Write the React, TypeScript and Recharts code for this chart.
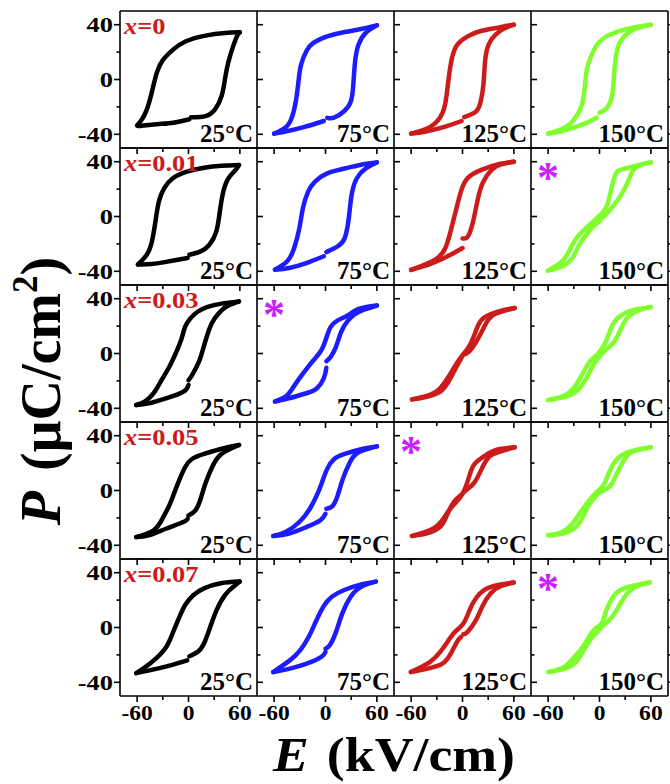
import React from 'react';
import { LineChart, Line, XAxis, YAxis } from 'recharts';

type Pt = [number, number];

// rows = composition, columns = measuring temperature
const COMPOSITIONS = ['0', '0.01', '0.03', '0.05', '0.07'];
const TEMPERATURES = ['25°C', '75°C', '125°C', '150°C'];
const LOOP_COLORS = ['#000000', '#1c1cff', '#cc1b1b', '#7fff2e'];

const E_TICKS = [-60, -30, 0, 30, 60];
const E_MAJOR = [-60, 0, 60];
const P_TICKS = [-40, -20, 0, 20, 40];
const P_MAJOR = [-40, 0, 40];

// panels marked with a star: [row, col]
const STARRED: [number, number][] = [[1, 3], [2, 1], [3, 2], [4, 3]];

// each loop: lower branch from the pause near E=0 up to +Emax,
// upper branch back down to -Emax, then lower branch up to the pause again
const x0_25C: Pt[] = [
  [3, -27.6], [20, -26.7], [31, -21.8], [38.7, -12], [42.5, 0], [46.3, 12], [52, 24], [57.7, 33], [60, 34.4],
  [42.5, 33.9], [19.7, 32], [-3, 27.9], [-18, 21.8], [-29.6, 14.5], [-37, 5], [-43, -9.7], [-48.6, -21.8], [-54.3, -29], [-60, -33.5],
  [-56, -33.9], [-37, -32.7], [-18, -31.5], [1, -29],
];
const x0_75C: Pt[] = [
  [2, -28], [10, -27.9], [22, -23], [29.7, -15.8], [32.5, -3.6], [34.6, 13.3], [38.6, 25.5], [46.7, 33.9], [60, 39.5],
  [42.7, 37], [22.4, 34.7], [2, 31.5], [-14.2, 26.7], [-22.4, 20.6], [-28.5, 10.9], [-31.3, 0], [-34.6, -15.8], [-39.4, -27.9], [-46.7, -35], [-60, -39.5],
  [-46.7, -38], [-26.4, -35], [-2, -30.3],
];
const x0_125C: Pt[] = [
  [2, -27.4], [14.2, -24.2], [20.3, -18.2], [24.4, -3.6], [26.4, 13.3], [30.5, 25.5], [38.6, 32.7], [48, 37], [60, 40],
  [50, 39], [42.7, 38], [22.4, 35.6], [6, 31.5], [-6, 25.5], [-12.2, 15.8], [-16.3, 0], [-20.3, -18.2], [-26.4, -27.9], [-38.6, -35], [-60, -39.5],
  [-42.7, -38], [-18.3, -34], [-1, -30.3],
];
const x0_150C: Pt[] = [
  [0, -24.2], [8.9, -20.6], [15, -10.9], [17, 3.6], [20.3, 20.6], [27.2, 30.3], [41.5, 37], [60, 40],
  [41.5, 38.2], [21, 35], [5, 30.3], [-5.3, 23], [-13.4, 10.9], [-16.3, 0], [-19.5, -15.8], [-25.6, -25.5], [-37.8, -34], [-60, -39.5],
  [-43.9, -37.6], [-19.5, -32.7], [-3.3, -27.9],
];

const x001_25C: Pt[] = [
  [1, -27.9], [14.2, -25.5], [24.4, -20.6], [32.5, -10.9], [36.6, 3.6], [40.7, 18.2], [46.7, 27.9], [54.9, 33.9], [59, 37.6],
  [38.6, 37], [18.3, 35.6], [-2, 32.7], [-18.3, 27.9], [-28.5, 20.6], [-34.6, 10.9], [-38.6, -3.6], [-42.7, -18.2], [-48.8, -27.9], [-59, -35],
  [-42.7, -34.7], [-22.4, -32.7], [-1, -30.3],
];
const x001_75C: Pt[] = [
  [1, -26], [14.2, -21.8], [22.4, -15.8], [27.2, -1.2], [30.5, 15.8], [36.6, 27.9], [46.7, 35], [60, 39.5],
  [42.7, 38], [22.4, 35], [2, 31.5], [-12.2, 25.5], [-20.3, 18.2], [-26.4, 6], [-30.5, -8.5], [-36.6, -23], [-44.7, -32.7], [-59, -38.8],
  [-42.7, -37.6], [-22.4, -34], [-2, -29],
];
const x001_125C: Pt[] = [
  [0, -16], [5, -15.5], [9, -11], [13, -2], [18, 13], [24, 25], [34, 34], [45, 38], [60, 40],
  [43, 38.3], [22, 34], [6, 28], [-2, 18], [-8, 3.6], [-14, -11], [-20, -23], [-32, -31.5], [-60, -39],
  [-35, -34], [-14, -28], [0, -23],
];
const x001_150C: Pt[] = [
  [1, -2.4], [8.9, 2.4], [17, 8.5], [25.2, 15.8], [33.3, 25.5], [39.4, 33.9], [49.6, 38], [60, 39.5],
  [45, 37.5], [30, 35], [21, 33], [17, 27.9], [13, 18.2], [9, 8.5], [3, 2.4], [-1, 0], [-11.4, -6], [-23.6, -13.3], [-31.7, -20.6], [-37.8, -27.9], [-46, -34], [-60, -39.5],
  [-43.9, -36.4], [-31.7, -30.3], [-23.6, -20.6], [-15.4, -13.3], [-7.3, -7.3], [0, -3.6],
];

const x003_25C: Pt[] = [
  [0, -19.5], [4, -16], [12.2, -6], [18.3, 6], [24.4, 18], [30.5, 25.5], [38.6, 31.5], [46.7, 35], [59, 38],
  [38.6, 36.4], [22.4, 34], [10.2, 30.3], [2, 25.5], [-4, 19.4], [-8.1, 10.9], [-14.2, 1.2], [-22.4, -9.7], [-32.5, -20.6], [-40.7, -29], [-50.8, -35], [-61, -37.6],
  [-46.7, -36.4], [-26.4, -32.7], [-6, -27.9], [0, -23],
];
const x003_75C: Pt[] = [
  [1, -5.6], [6.1, -2.4], [12.2, 4.8], [18.3, 15.8], [26.4, 24.2], [38.6, 30.3], [60, 35],
  [38.6, 32.5], [26.4, 27.9], [14.2, 24.2], [6.1, 19.4], [2, 13.3], [-2, 6.1], [-6.1, 1.2], [-12.2, -3.6], [-20.3, -9.7], [-30.5, -18.2], [-38.6, -25.5], [-46.7, -31.5], [-59, -35],
  [-42.7, -32.7], [-22.4, -29], [-10.2, -25.5], [-2, -18.2], [1, -10.4],
];
const x003_125C: Pt[] = [
  [1, -1], [6.1, 0.5], [12.2, 4.8], [20.3, 13.3], [28.5, 23], [38.6, 29], [61, 33.2],
  [42.7, 30.8], [26.4, 26.7], [18.3, 20.6], [12.2, 10.9], [6.1, 3.6], [0, -1.2], [-8.1, -8.5], [-16.3, -17], [-26.4, -25.5], [-38.6, -30.3], [-59, -33.5],
  [-42.7, -31.8], [-26.4, -28], [-16.3, -20.6], [-8.1, -10.9], [-1, -3],
];
const x003_150C: Pt[] = [
  [0, -2], [6.9, 2.4], [17, 8.5], [25.2, 18.2], [33.3, 26.7], [45.5, 31.5], [60, 34],
  [41.5, 32], [25.2, 27.9], [15, 20.6], [9, 10.9], [2.8, 3.6], [-3.3, -1.2], [-11.4, -6], [-19.5, -14.5], [-27.6, -23], [-39.8, -30.3], [-60, -34],
  [-43.9, -32.2], [-27.6, -27.9], [-15.4, -18.2], [-7.3, -8.5], [-1, -3],
];

const x005_25C: Pt[] = [
  [0, -18.2], [8.1, -14.5], [14.2, -6], [20.3, 6], [28.5, 18.2], [38.6, 26.7], [59, 33.2],
  [38.6, 30.5], [18.3, 26.7], [4, 23], [-4, 17], [-10.2, 8.5], [-16.3, -1.2], [-22.4, -10.9], [-30.5, -20.6], [-40.7, -29], [-61, -34],
  [-46.7, -32.7], [-26.4, -27.9], [-6.1, -23], [-1, -20.6],
];
const x005_75C: Pt[] = [
  [1, -13.3], [8.1, -11.4], [14.2, -3.6], [20.3, 8.5], [28.5, 20.6], [38.6, 27.9], [60, 32.2],
  [42.7, 30.3], [22.4, 26.7], [10.2, 23], [2, 15.8], [-4, 6.1], [-10.2, -3.6], [-18.3, -13.3], [-30.5, -23], [-46.7, -30.3], [-61, -33.2],
  [-42.7, -31.5], [-22.4, -26.7], [-6.1, -21.8], [0, -17],
];
const x005_125C: Pt[] = [
  [1, -1.5], [6.1, 1.2], [14.2, 6.1], [22.4, 15.8], [30.5, 24.2], [42.7, 28.2], [61, 31.5],
  [40, 29.8], [26.4, 25.5], [14.2, 19.4], [8.1, 10.9], [2.8, 1.2], [-4, -6], [-14.2, -13.3], [-22.4, -20.6], [-34.6, -27.9], [-59, -33.2],
  [-42.7, -31.5], [-26.4, -26.7], [-18.3, -18.2], [-10.2, -8.5], [-1, -3],
];
const x005_150C: Pt[] = [
  [0, -1.5], [4.9, 0], [13, 3.6], [19.1, 10.9], [27.2, 20.6], [37.4, 27.9], [60, 31.5],
  [41.5, 29.5], [25.2, 25.5], [15, 18.2], [9, 9.7], [2.8, 2.4], [-5.3, -2.4], [-13.4, -8.5], [-23.6, -17], [-31.7, -24.2], [-43.9, -30.3], [-60, -32.7],
  [-41.9, -31.3], [-27.6, -26.7], [-19.5, -19.4], [-11.4, -9.7], [-3.3, -3.6],
];

const x007_25C: Pt[] = [
  [1, -21], [10.8, -17.8], [18.1, -11.7], [25.5, 0.5], [32.8, 12.7], [42.6, 23.7], [52.5, 29.8], [59.8, 33.5],
  [37.7, 32.3], [18.1, 28.6], [5.9, 23.7], [-3.9, 16.4], [-11.3, 6.6], [-18.6, -4.4], [-26, -14.2], [-38.2, -22.7], [-50.5, -28.9], [-61, -33.3],
  [-45.6, -31.3], [-21.1, -27.6], [-1.5, -24],
];
const x007_75C: Pt[] = [
  [0, -15.4], [4.9, -13], [12.3, -3.2], [19.6, 10.3], [29.4, 22.5], [41.7, 29.8], [58.8, 33.5],
  [41.7, 31.5], [22, 27.4], [7.4, 22.5], [-2.5, 15.2], [-12.3, 2.9], [-19.6, -6.8], [-29.4, -16.6], [-41.7, -24], [-61, -32.5],
  [-41.7, -30], [-22, -26.4], [-4.9, -21.5], [0, -17.8],
];
const x007_125C: Pt[] = [
  [1, -4.9], [5.9, -3.2], [15.7, 5.4], [23, 15.2], [32.8, 24.9], [45.1, 30.3], [59.8, 32.8],
  [40.2, 30.8], [25.5, 27.4], [15.7, 21.3], [8.3, 12.7], [1, 2.9], [-8.8, -3.2], [-16.2, -9.3], [-26, -17.8], [-38.2, -25.2], [-60.3, -32.5],
  [-40.7, -30], [-23.5, -26.4], [-13.7, -19.1], [-6.4, -10.5], [-1.5, -6.8],
];
const x007_150C: Pt[] = [
  [-1, -2], [4.9, 1.7], [14.7, 7.8], [24.5, 17.6], [34.3, 26.2], [46.6, 31], [58.8, 32.8],
  [41.7, 30.8], [24.5, 27.4], [14.7, 21.3], [7.4, 11.5], [2.5, 2.9], [-4.9, -0.7], [-12.3, -6.8], [-19.6, -14.2], [-29.4, -21.5], [-41.7, -28.9], [-59.8, -32.5],
  [-44.1, -30.8], [-29.4, -26.4], [-19.6, -17.8], [-9.8, -8.1], [-2, -3],
];

const LOOPS: Pt[][][] = [
  [x0_25C, x0_75C, x0_125C, x0_150C],
  [x001_25C, x001_75C, x001_125C, x001_150C],
  [x003_25C, x003_75C, x003_125C, x003_150C],
  [x005_25C, x005_75C, x005_125C, x005_150C],
  [x007_25C, x007_75C, x007_125C, x007_150C],
];

// layout
const GRID_LEFT = 120;
const GRID_TOP = 11;
const PW = 137;
const PH = 137;
const AXIS_W = 50;
const RIGHT_W = 8;
const TOP_H = 2;
const PAD = 10;
const BOTTOM_H = 30;
const SERIF = "'Liberation Serif', 'Times New Roman', serif";
const FRAME = { stroke: '#000', strokeWidth: 1.6 };

// split a loop at its two field extremes so each branch is drawn as its own curve
function branches(loop: Pt[]) {
  let iMax = 0;
  let iMin = 0;
  loop.forEach(([e], i) => {
    if (e > loop[iMax][0]) iMax = i;
    if (e < loop[iMin][0]) iMin = i;
  });
  const rows = (pts: Pt[]) => pts.map(([e, p]) => ({ e, p }));
  return [loop.slice(0, iMax + 1), loop.slice(iMax, iMin + 1), loop.slice(iMin)].map(rows);
}

// bold serif label; sx widens the lettering a little like the original figure
function Txt({ x, y, size, anchor = 'start', fill = '#000', rotate = false, sx = 1, children }: any) {
  return (
    <text
      transform={`translate(${x},${y}) scale(${sx},1)${rotate ? ' rotate(-90)' : ''}`}
      fontSize={size}
      fontWeight="bold"
      fontFamily={SERIF}
      textAnchor={anchor}
      fill={fill}
    >
      {children}
    </text>
  );
}

const bottomTick = (labels: boolean) => (props: any) => {
  const { x, y, payload } = props;
  const major = E_MAJOR.includes(payload.value);
  return (
    <g>
      <line x1={x} x2={x} y1={y} y2={y + (major ? 6 : 4)} {...FRAME} />
      {labels && major && <Txt x={x} y={y + 24} size={21} sx={1.12} anchor="middle">{payload.value}</Txt>}
    </g>
  );
};

const leftTick = (props: any) => {
  const { x, y, payload } = props;
  const major = P_MAJOR.includes(payload.value);
  return (
    <g>
      <line x1={x} x2={x - (major ? 6 : 3.5)} y1={y} y2={y} {...FRAME} />
      {major && <Txt x={x - 7} y={y + 7.5} size={22} sx={1.2} anchor="end">{payload.value}</Txt>}
    </g>
  );
};

const rightTick = (props: any) => {
  const { x, y, payload } = props;
  const major = P_MAJOR.includes(payload.value);
  return <line x1={x} x2={x + (major ? 6 : 3.5)} y1={y} y2={y} {...FRAME} />;
};

function Panel({ row, col }: { row: number; col: number }) {
  const parts = branches(LOOPS[row][col]);
  const color = LOOP_COLORS[col];
  const lastRow = row === COMPOSITIONS.length - 1;
  const firstCol = col === 0;
  return (
    <div style={{ position: 'absolute', left: GRID_LEFT + col * PW - AXIS_W, top: GRID_TOP + row * PH - PAD }}>
      <LineChart
        width={AXIS_W + PW + PAD}
        height={PAD + PH + BOTTOM_H}
        margin={{ top: PAD - TOP_H, right: PAD - RIGHT_W, bottom: 0, left: 0 }}
      >
        <XAxis
          xAxisId="b"
          dataKey="e"
          type="number"
          domain={[-80, 80]}
          ticks={E_TICKS}
          interval={0}
          height={BOTTOM_H}
          tickSize={0}
          tickMargin={0}
          tickLine={false}
          axisLine={FRAME}
          tick={bottomTick(lastRow)}
          allowDataOverflow
        />
        <XAxis
          xAxisId="t"
          orientation="top"
          type="number"
          domain={[-80, 80]}
          height={TOP_H}
          tick={false}
          tickLine={false}
          axisLine={FRAME}
          allowDataOverflow
        />
        <YAxis
          yAxisId="l"
          type="number"
          domain={[-50, 50]}
          ticks={P_TICKS}
          interval={0}
          width={AXIS_W}
          tickSize={0}
          tickMargin={0}
          tickLine={false}
          axisLine={firstCol ? FRAME : false}
          tick={firstCol ? leftTick : false}
          allowDataOverflow
        />
        <YAxis
          yAxisId="r"
          orientation="right"
          type="number"
          domain={[-50, 50]}
          ticks={P_TICKS}
          interval={0}
          width={RIGHT_W}
          tickSize={0}
          tickMargin={0}
          tickLine={false}
          axisLine={FRAME}
          tick={rightTick}
          allowDataOverflow
        />
        {parts.map((d, i) => (
          <Line
            key={i}
            xAxisId="b"
            yAxisId="l"
            data={d}
            dataKey="p"
            type="natural"
            stroke={color}
            strokeWidth={4.5}
            strokeLinecap="round"
            dot={false}
            activeDot={false}
            isAnimationActive={false}
          />
        ))}
      </LineChart>
    </div>
  );
}

export default function App() {
  const gridRight = GRID_LEFT + TEMPERATURES.length * PW;
  const gridBottom = GRID_TOP + COMPOSITIONS.length * PH;
  return (
    <div style={{ position: 'absolute', left: 0, top: 0, width: 670, height: 784, background: '#fff', overflow: 'hidden' }}>
      {COMPOSITIONS.map((_, r) => TEMPERATURES.map((_, c) => <Panel key={`${r}-${c}`} row={r} col={c} />))}
      <svg width={670} height={784} style={{ position: 'absolute', left: 0, top: 0, pointerEvents: 'none' }}>
        {COMPOSITIONS.map((x, r) => (
          <Txt key={`x${r}`} x={GRID_LEFT + 4} y={GRID_TOP + r * PH + 23} size={24} sx={1.1} fill="#cc1b1b">
            <tspan fontStyle="italic">x</tspan>={x}
          </Txt>
        ))}
        {COMPOSITIONS.map((_, r) =>
          TEMPERATURES.map((t, c) => (
            <Txt key={`t${r}-${c}`} x={GRID_LEFT + (c + 1) * PW - 4} y={GRID_TOP + (r + 1) * PH - 6} size={25} anchor="end">
              {t}
            </Txt>
          ))
        )}
        {STARRED.map(([r, c]) => (
          <Txt key={`s${r}-${c}`} x={GRID_LEFT + c * PW + 6} y={GRID_TOP + r * PH + 44} size={44} fill="#cc1fff">
            *
          </Txt>
        ))}
        <Txt x={(GRID_LEFT + gridRight) / 2} y={gridBottom + 75} size={48} sx={1.12} anchor="middle">
          <tspan fontStyle="italic">E</tspan>
          <tspan dx={16}>(kV/cm)</tspan>
        </Txt>
        <Txt x={60} y={391} size={56} anchor="middle" rotate>
          <tspan fontStyle="italic">P</tspan>
          <tspan dx={20}>(μC/cm</tspan>
          <tspan dy={-23} fontSize={35}>2</tspan>
          <tspan dy={23}>)</tspan>
        </Txt>
      </svg>
    </div>
  );
}
